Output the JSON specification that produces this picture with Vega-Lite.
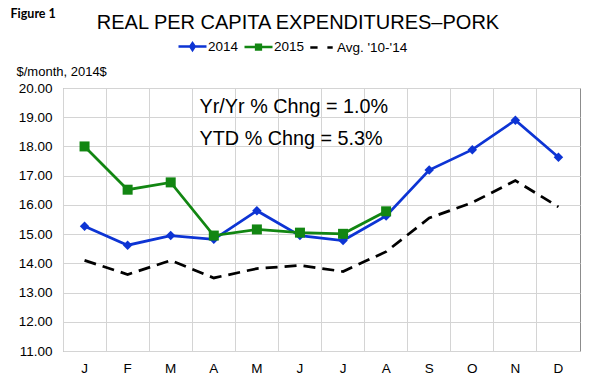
{
  "$schema": "https://vega.github.io/schema/vega-lite/v6.json",
  "autosize": {"type": "none"},
  "width": 517,
  "height": 263,
  "padding": {"left": 63, "top": 88, "right": 15, "bottom": 37},
  "background": "white",
  "title": {
    "text": "REAL PER CAPITA EXPENDITURES–PORK",
    "anchor": "middle",
    "frame": "bounds",
    "font": "Liberation Sans",
    "fontSize": 20,
    "fontWeight": "normal",
    "color": "black",
    "baseline": "alphabetic",
    "offset": 0,
    "dy": 41,
    "dx": 3
  },
  "config": {
    "font": "Liberation Sans",
    "view": {"stroke": "#8c8c8c", "strokeWidth": 1},
    "axis": {
      "labelFont": "Liberation Sans",
      "labelFontSize": 13.5,
      "labelColor": "black",
      "domain": false,
      "ticks": false,
      "gridColor": "#d4d4d4",
      "gridWidth": 1
    },
    "legend": {
      "orient": "none",
      "legendX": 114,
      "legendY": -57,
      "direction": "horizontal",
      "title": null,
      "padding": 0,
      "symbolSize": 784,
      "symbolStrokeWidth": 2.5,
      "symbolOpacity": 1,
      "labelFont": "Liberation Sans",
      "labelFontSize": 13.5,
      "labelColor": "black",
      "labelOffset": 0,
      "columnPadding": 0
    }
  },
  "data": {
    "values": [
      {"month": "Jan", "series": "2014", "value": 15.27},
      {"month": "Feb", "series": "2014", "value": 14.62},
      {"month": "Mar", "series": "2014", "value": 14.95},
      {"month": "Apr", "series": "2014", "value": 14.82},
      {"month": "May", "series": "2014", "value": 15.8},
      {"month": "Jun", "series": "2014", "value": 14.95},
      {"month": "Jul", "series": "2014", "value": 14.78},
      {"month": "Aug", "series": "2014", "value": 15.62},
      {"month": "Sep", "series": "2014", "value": 17.19},
      {"month": "Oct", "series": "2014", "value": 17.89},
      {"month": "Nov", "series": "2014", "value": 18.9},
      {"month": "Dec", "series": "2014", "value": 17.63},
      {"month": "Jan", "series": "2015", "value": 18.0},
      {"month": "Feb", "series": "2015", "value": 16.52},
      {"month": "Mar", "series": "2015", "value": 16.77},
      {"month": "Apr", "series": "2015", "value": 14.95},
      {"month": "May", "series": "2015", "value": 15.16},
      {"month": "Jun", "series": "2015", "value": 15.05},
      {"month": "Jul", "series": "2015", "value": 15.01},
      {"month": "Aug", "series": "2015", "value": 15.78},
      {"month": "Jan", "series": "Avg. '10-'14", "value": 14.1},
      {"month": "Feb", "series": "Avg. '10-'14", "value": 13.62},
      {"month": "Mar", "series": "Avg. '10-'14", "value": 14.1},
      {"month": "Apr", "series": "Avg. '10-'14", "value": 13.5},
      {"month": "May", "series": "Avg. '10-'14", "value": 13.82},
      {"month": "Jun", "series": "Avg. '10-'14", "value": 13.93},
      {"month": "Jul", "series": "Avg. '10-'14", "value": 13.72},
      {"month": "Aug", "series": "Avg. '10-'14", "value": 14.4},
      {"month": "Sep", "series": "Avg. '10-'14", "value": 15.55},
      {"month": "Oct", "series": "Avg. '10-'14", "value": 16.08},
      {"month": "Nov", "series": "Avg. '10-'14", "value": 16.83},
      {"month": "Dec", "series": "Avg. '10-'14", "value": 15.93}
    ]
  },
  "encoding": {
    "x": {
      "field": "month",
      "type": "ordinal",
      "sort": ["Jan","Feb","Mar","Apr","May","Jun","Jul","Aug","Sep","Oct","Nov","Dec"],
      "scale": {"type": "band", "paddingInner": 0, "paddingOuter": 0},
      "axis": {
        "labelExpr": "substring(datum.label, 0, 1)",
        "labelAngle": 0,
        "labelPadding": 10,
        "grid": true,
        "bandPosition": 0,
        "title": "Figure 1",
        "titleFont": "Lato",
        "titleFontSize": 12.5,
        "titleFontWeight": "bold",
        "titleColor": "black",
        "titleAlign": "left",
        "titleBaseline": "alphabetic",
        "titleAnchor": "start",
        "titleAngle": 0,
        "titleX": -53,
        "titleY": -333.5
      }
    },
    "y": {
      "field": "value",
      "type": "quantitative",
      "scale": {"domain": [11, 20], "nice": false, "zero": false},
      "axis": {
        "values": [11, 12, 13, 14, 15, 16, 17, 18, 19, 20],
        "format": ".2f",
        "labelPadding": 11,
        "grid": true,
        "title": "$/month, 2014$",
        "titleFont": "Liberation Sans",
        "titleFontSize": 13,
        "titleFontWeight": "normal",
        "titleColor": "black",
        "titleAngle": 0,
        "titleAlign": "left",
        "titleBaseline": "alphabetic",
        "titleAnchor": "start",
        "titleX": -47,
        "titleY": -12.5
      }
    },
    "color": {
      "field": "series",
      "type": "nominal",
      "scale": {"domain": ["2014", "2015", "Avg. '10-'14"], "range": ["#0d34d4", "#128612", "#000000"]}
    }
  },
  "layer": [
    {
      "transform": [{"filter": "false"}],
      "mark": {"type": "point", "filled": false, "strokeWidth": 2.5},
      "encoding": {
        "shape": {
          "field": "series",
          "type": "nominal",
          "scale": {
            "domain": ["2014", "2015", "Avg. '10-'14"],
            "range": [
              "M-1,0L1,0M0,-0.24L0.16,0L0,0.24L-0.16,0Z",
              "M-1,0L1,0M-0.17,-0.17L0.17,-0.17L0.17,0.17L-0.17,0.17Z",
              "M-0.8,0L-0.28,0M0.42,0L0.8,0"
            ]
          }
        }
      }
    },
    {
      "transform": [{"filter": "datum.series === \"Avg. '10-'14\""}],
      "mark": {"type": "line", "strokeWidth": 2.75, "strokeDash": [12, 7]}
    },
    {
      "transform": [{"filter": "datum.series === '2014'"}],
      "mark": {
        "type": "line",
        "strokeWidth": 2.75,
        "point": {"shape": "diamond", "filled": true, "size": 90}
      }
    },
    {
      "transform": [{"filter": "datum.series === '2015'"}],
      "mark": {
        "type": "line",
        "strokeWidth": 2.75,
        "point": {"shape": "square", "filled": true, "size": 100}
      }
    },
    {
      "data": {
        "values": [
          {"label": "Yr/Yr % Chng = 1.0%", "month": "Apr", "value": 19.16},
          {"label": "YTD % Chng = 5.3%", "month": "Apr", "value": 18.06}
        ]
      },
      "mark": {
        "type": "text",
        "align": "left",
        "baseline": "alphabetic",
        "font": "Liberation Sans",
        "fontSize": 19.8,
        "color": "black"
      },
      "encoding": {
        "x": {"field": "month", "type": "ordinal", "bandPosition": 0.17},
        "text": {"field": "label", "type": "nominal"},
        "color": {"value": "black"}
      }
    }
  ]
}
